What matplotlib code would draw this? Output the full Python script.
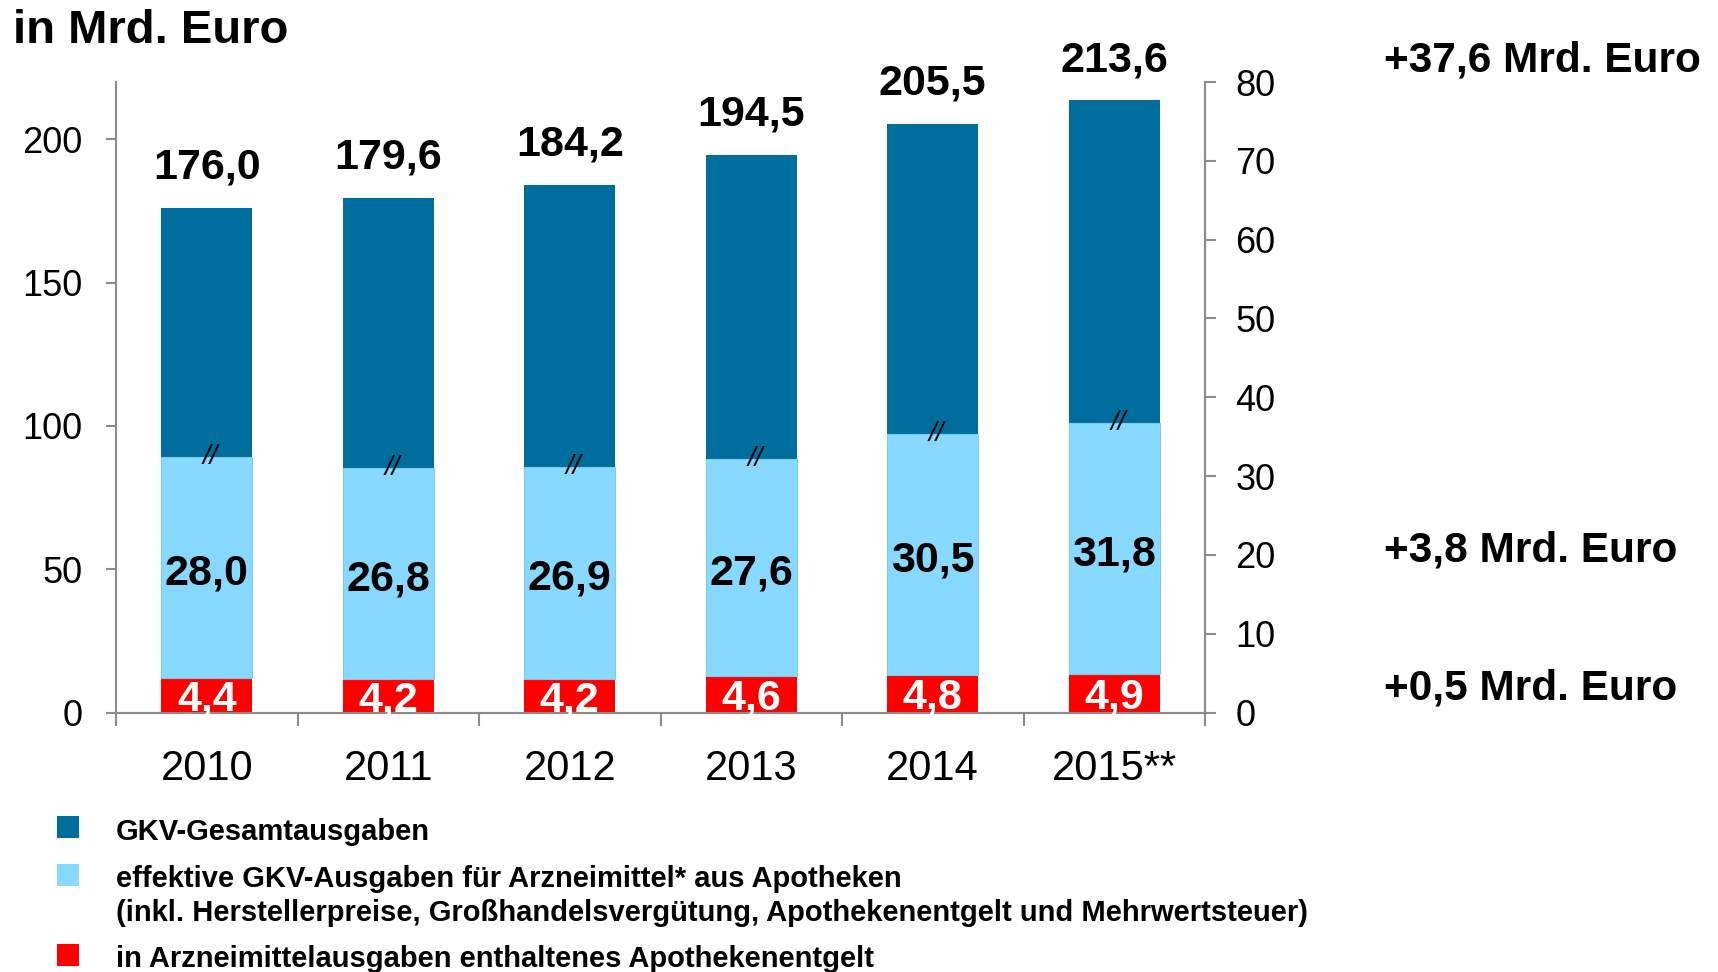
import matplotlib
matplotlib.use("Agg")
import matplotlib.pyplot as plt
from matplotlib.patches import Rectangle

plt.rcParams['font.family'] = ['Liberation Sans', 'DejaVu Sans']

years = ["2010", "2011", "2012", "2013", "2014", "2015**"]
gkv_total = [176.0, 179.6, 184.2, 194.5, 205.5, 213.6]
arznei = [28.0, 26.8, 26.9, 27.6, 30.5, 31.8]
apo = [4.4, 4.2, 4.2, 4.6, 4.8, 4.9]
left_ticks = [0, 50, 100, 150, 200]
right_ticks = [0, 10, 20, 30, 40, 50, 60, 70, 80]
changes = ["+37,6 Mrd. Euro", "+3,8 Mrd. Euro", "+0,5 Mrd. Euro"]
legend_lines = [["GKV-Gesamtausgaben"],
                ["effektive GKV-Ausgaben für Arzneimittel* aus Apotheken",
                 "(inkl. Herstellerpreise, Großhandelsvergütung, Apothekenentgelt und Mehrwertsteuer)"],
                ["in Arzneimittelausgaben enthaltenes Apothekenentgelt"]]

C_DARK = "#006E9C"
C_LIGHT = "#87D9FF"
C_RED = "#FF0000"
C_AX = "#8C8C8C"

def fmt(v):
    return f"{v:.1f}".replace(".", ",")

W, H = 1718, 972
fig = plt.figure(figsize=(W / 100, H / 100), dpi=100)
ax = fig.add_axes([116 / W, 1 - 712.5 / H, (1205 - 116) / W, (712.5 - 82) / H])
ax2 = ax.twinx()

x = list(range(len(years)))
bw = 0.5
ax.bar(x, gkv_total, width=bw, color=C_DARK, zorder=1)
ax2.bar(x, apo, width=bw, color=C_RED, zorder=2)
ax2.bar(x, arznei, width=bw, bottom=apo, color=C_LIGHT, edgecolor="#7CCBEA", linewidth=0.8, zorder=2)

ax.set_xlim(-0.5, len(years) - 0.5)
ax.set_ylim(0, 220)
ax2.set_ylim(0, 80)
ax.set_yticks(left_ticks)
ax.set_yticklabels([str(t) for t in left_ticks])
ax2.set_yticks(right_ticks)
ax2.set_yticklabels([str(t) for t in right_ticks])

ax.set_xticks(x)
ax.set_xticklabels(years, fontsize=30)
ax.set_xticks([i - 0.5 for i in range(len(years) + 1)], minor=True)
ax.tick_params(axis='x', which='major', length=0, pad=26)
ax.tick_params(axis='x', which='minor', length=9, width=1.5, color=C_AX, direction='out')
ax.tick_params(axis='y', length=7, width=1.5, color=C_AX, labelsize=26, pad=17, direction='out')
ax2.tick_params(axis='y', length=8, width=1.5, color=C_AX, labelsize=26, pad=14, direction='out')

for a in (ax, ax2):
    a.spines['top'].set_visible(False)
    for s in ('left', 'right', 'bottom'):
        a.spines[s].set_color(C_AX)
        a.spines[s].set_linewidth(1.5)
ax2.spines['left'].set_visible(False)

for i in x:
    ax.annotate(fmt(gkv_total[i]), (i, gkv_total[i]), xytext=(0, 21), textcoords='offset points',
                ha='center', va='baseline', fontsize=31, fontweight='bold', color='black')
    ax2.annotate(fmt(arznei[i]), (i, apo[i] + arznei[i] / 2), xytext=(0, -4), textcoords='offset points',
                 ha='center', va='center', fontsize=31, fontweight='bold', color='black', zorder=5)
    ax2.annotate(fmt(apo[i]), (i, apo[i] / 2), xytext=(0, -3), textcoords='offset points',
                 ha='center', va='center', fontsize=31, fontweight='bold', color='white', zorder=5)
    ax2.text(i + 0.02, apo[i] + arznei[i], "//", ha='center', va='center',
             fontsize=20, style='italic', color='black', zorder=5)

fig.text(13 / W, 1 - 31 / H, "in Mrd. Euro", ha='left', va='center', fontsize=34, fontweight='bold')

for txt, yy in zip(changes, [60, 551, 689]):
    fig.text(1384 / W, 1 - yy / H, txt, ha='left', va='center', fontsize=30.5, fontweight='bold')

leg_colors = [C_DARK, C_LIGHT, C_RED]
sq_centers = [827, 875, 955]
line_centers = [[829.5], [876.5, 910.5], [956.5]]
fs_leg = 21
cap = 0.716 * fs_leg * 100 / 72
for col, sy, lines, centers in zip(leg_colors, sq_centers, legend_lines, line_centers):
    fig.patches.append(Rectangle((57 / W, 1 - (sy + 11) / H), 22 / W, 22 / H,
                                 transform=fig.transFigure, facecolor=col, edgecolor='none'))
    for ln, cy in zip(lines, centers):
        fig.text(116 / W, 1 - (cy + cap / 2) / H, ln, ha='left', va='baseline', fontsize=fs_leg,
                 fontweight='bold')

fig.savefig("out.png", dpi=100)
